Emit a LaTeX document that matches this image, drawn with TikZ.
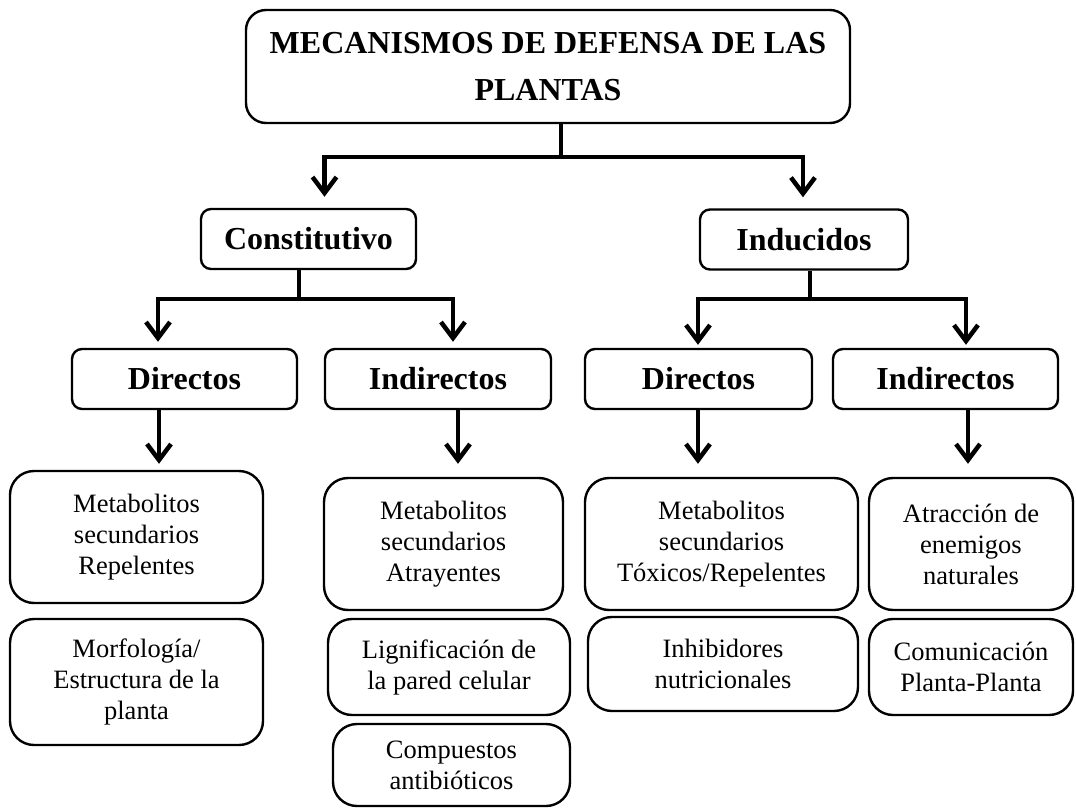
\documentclass[tikz,border=0pt]{standalone}
\usepackage{fontspec}
\setmainfont{Liberation Serif}
\usetikzlibrary{arrows.meta, positioning}

\begin{document}
\begin{tikzpicture}[x=1pt, y=-1pt,
  box/.style={draw, line width=2.4pt, align=center, inner sep=0pt},
  titlebox/.style={box, rounded corners=20pt, font=\fontsize{32}{47}\selectfont\bfseries},
  headbox/.style={box, rounded corners=10pt, minimum height=60pt, font=\fontsize{32}{38}\selectfont\bfseries},
  leafbox/.style={box, rounded corners=24pt, font=\fontsize{26.5}{31}\selectfont},
  link/.style={line width=4.5pt},
  arrow/.style={link, -{Straight Barb[length=16pt, width=24pt]}}]
  \useasboundingbox (0,0) rectangle (1076,808);

  % --- TITLE ---
  \node[titlebox, minimum width=604pt, minimum height=113pt] (title) at (548,66.5) {MECANISMOS DE DEFENSA DE LAS\\PLANTAS};

  % --- CONSTITUTIVE / INDUCED ---
  \node[headbox, minimum width=215pt] (cons) at (308.5,239) {Constitutivo};
  \node[headbox, minimum width=208pt] (ind)  at (804,239.5) {Inducidos};

  % --- DIRECT / INDIRECT ---
  \node[headbox, minimum width=225pt] (dirL) at (184.5,379) {Directos};
  \node[headbox, minimum width=226pt] (indL) at (438,379)   {Indirectos};
  \node[headbox, minimum width=227pt] (dirR) at (698.5,379) {Directos};
  \node[headbox, minimum width=225pt] (indR) at (945.5,379) {Indirectos};

  % --- LEAVES: constitutive ---
  \node[leafbox, minimum width=253pt, minimum height=132pt] (metL) at (136.5,537) {Metabolitos\\secundarios\\Repelentes};
  \node[leafbox, minimum width=253pt, minimum height=126pt] (morf) at (136.5,682) {Morfología/\\Estructura de la\\planta};
  \node[leafbox, minimum width=239pt, minimum height=132pt] (metA) at (443.5,544) {Metabolitos\\secundarios\\Atrayentes};
  \node[leafbox, minimum width=242pt, minimum height=96pt]  (lign) at (449,667)   {Lignificación de\\la pared celular};
  \node[leafbox, minimum width=237pt, minimum height=82pt]  (comp) at (451.5,765) {Compuestos\\antibióticos};

  % --- LEAVES: induced ---
  \node[leafbox, minimum width=273pt, minimum height=132pt] (metT)  at (721.5,544) {Metabolitos\\secundarios\\Tóxicos/Repelentes};
  \node[leafbox, minimum width=270pt, minimum height=94pt]  (inhib) at (723,664)   {Inhibidores\\nutricionales};
  \node[leafbox, minimum width=204pt, minimum height=132pt] (atrac) at (971,544)   {Atracción de\\enemigos\\naturales};
  \node[leafbox, minimum width=204pt, minimum height=96pt]  (comun) at (971,667)   {Comunicación\\Planta-Planta};

  % Connectors, level 1
  \coordinate (j0) at (561,157);
  \draw[link] (title.south -| j0) -- (j0);
  \draw[arrow] (j0) -| ([xshift=16pt,yshift=11pt]cons.north);
  \draw[arrow] (j0) -| ([xshift=-1pt,yshift=11pt]ind.north);

  % Connectors, level 2
  \coordinate (j1) at (299,299);
  \draw[link] (cons.south -| j1) -- (j1);
  \draw[arrow] (j1) -| ([xshift=-26.5pt,yshift=6pt]dirL.north);
  \draw[arrow] (j1) -| ([xshift=15pt,yshift=6pt]indL.north);
  \coordinate (j2) at (810,299);
  \draw[link] (ind.south -| j2) -- (j2);
  \draw[arrow] (j2) -| ([xshift=-0.5pt,yshift=3pt]dirR.north);
  \draw[arrow] (j2) -| ([xshift=20.5pt,yshift=3pt]indR.north);

  % Connectors, level 3
  \draw[arrow] ([xshift=-25.5pt]dirL.south) -- ([xshift=22.5pt,yshift=6pt]metL.north);
  \draw[arrow] ([xshift=20pt]indL.south)    -- ([xshift=14.5pt,yshift=13pt]metA.north);
  \draw[arrow] ([xshift=-0.5pt]dirR.south)  -- ([xshift=-23.5pt,yshift=13pt]metT.north);
  \draw[arrow] ([xshift=22.5pt]indR.south)  -- ([xshift=-3pt,yshift=13pt]atrac.north);
\end{tikzpicture}
\end{document}
